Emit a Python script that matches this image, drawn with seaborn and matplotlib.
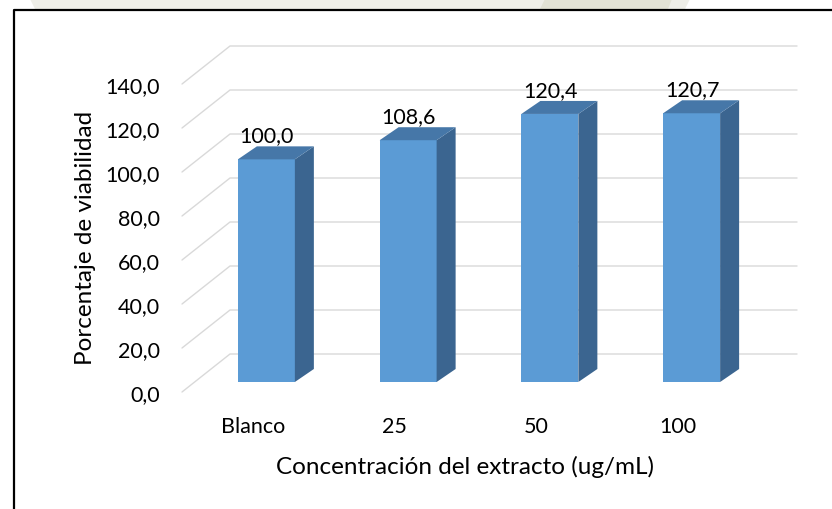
import matplotlib
matplotlib.use("Agg")
import matplotlib.pyplot as plt
from matplotlib.patches import Polygon
from matplotlib.lines import Line2D
from matplotlib.transforms import Affine2D, IdentityTransform
import seaborn as sns
import pandas as pd

# Datos
categorias = ["Blanco", "25", "50", "100"]
viabilidad = [100.0, 108.6, 120.4, 120.7]
ticks_y = [0, 20, 40, 60, 80, 100, 120, 140]
titulo_x = "Concentración del extracto (ug/mL)"
titulo_y = "Porcentaje de viabilidad"

df = pd.DataFrame({"concentracion": categorias, "viabilidad": viabilidad})

W, H, DPI = 832, 510, 100
sns.set_theme(style="white")
plt.rcParams["font.family"] = ["Lato", "DejaVu Sans"]

fig = plt.figure(figsize=(W / DPI, H / DPI), dpi=DPI)
fig.patch.set_facecolor("white")

# front plane of the 3D box, in pixels from the top-left corner
left_px, right_px = 182, 749
base_px, top_px = 393, 85
ax = fig.add_axes([left_px / W, (H - base_px) / H,
                   (right_px - left_px) / W, (base_px - top_px) / H])
ax.set_facecolor("none")

frente = "#5B9BD5"
lado = "#3B6590"
tapa = "#4677A8"
rejilla = "#D9D9D9"
fs = 15.5
fs_titulo = 17.5
ident = IdentityTransform()

sns.barplot(data=df, x="concentracion", y="viabilidad", color=frente,
            width=0.402, saturation=1, ax=ax, zorder=3)
ax.set_xlim(-0.5, 3.5)
ax.set_ylim(0, 140)
for s in ax.spines.values():
    s.set_visible(False)
ax.set_yticks(ticks_y)
ax.set_yticklabels([f"{v:.1f}".replace(".", ",") for v in ticks_y])
ax.tick_params(axis="both", length=0, labelsize=fs, colors="black")
ax.tick_params(axis="y", pad=16)
ax.tick_params(axis="x", pad=17)
ax.grid(False)

# axis titles centred at fixed pixel positions
ax.set_xlabel(titulo_x, fontsize=fs_titulo, color="black", va="center")
ax.set_ylabel(titulo_y, fontsize=fs_titulo, color="black", va="center")
ax.xaxis.set_label_coords(465, H - 467, transform=ident)
ax.yaxis.set_label_coords(85, H - 238, transform=ident)

# oblique offsets (pixels, y up) for the bar plane and the back wall
bar_dx, bar_dy = 13.5, 10
depth_dx, depth_dy = 19, 13
wall_dx, wall_dy = 48, 38
wall_right = 797

td = ax.transData
base_disp = H - base_px

# perspective gridlines: diagonal on the side wall plus line along the back wall
for v in ticks_y:
    _, yv = td.transform((0, v))
    xf = td.transform((-0.5, 0))[0]
    ax.add_line(Line2D([xf, xf + wall_dx, wall_right],
                       [yv, yv + wall_dy, yv + wall_dy],
                       color=rejilla, lw=1.0, transform=ident,
                       clip_on=False, zorder=1))

bar_tr = (Affine2D().translate(0, -base_disp).scale(1, 1.012)
          .translate(bar_dx, base_disp + bar_dy))
for p in list(ax.patches):
    p.set_transform(td + bar_tr)
    p.set_edgecolor("none")
    p.set_clip_on(False)
    x0, y0 = p.get_x(), p.get_y()
    x1, y1 = x0 + p.get_width(), y0 + p.get_height()
    (xl, yb), (xr, yt) = (td + bar_tr).transform([(x0, y0), (x1, y1)])
    side = Polygon([(xr, yb), (xr + depth_dx, yb + depth_dy),
                    (xr + depth_dx, yt + depth_dy), (xr, yt)],
                   closed=True, facecolor=lado, edgecolor="none",
                   transform=ident, clip_on=False, zorder=3)
    top = Polygon([(xl, yt), (xr, yt), (xr + depth_dx, yt + depth_dy),
                   (xl + depth_dx, yt + depth_dy)],
                  closed=True, facecolor=tapa, edgecolor="none",
                  transform=ident, clip_on=False, zorder=3)
    ax.add_patch(side)
    ax.add_patch(top)

# value labels above each bar
for i, v in enumerate(viabilidad):
    xd, yd = td.transform((i, v))
    ax.text(xd + 14, yd + 37, f"{v:.1f}".replace(".", ","),
            transform=ident, ha="center", va="center",
            fontsize=fs, color="black", zorder=5, clip_on=False)

# faint band at the top edge
fig.add_artist(Polygon([(30, H), (690, H), (685, H - 10), (35, H - 10)],
                       closed=True, facecolor="#EEEEE8", edgecolor="none",
                       transform=ident, zorder=0))
fig.add_artist(Polygon([(545, H), (672, H), (668, H - 10), (540, H - 10)],
                       closed=True, facecolor="#E2E2D5", edgecolor="none",
                       transform=ident, zorder=0))

# chart frame (left and top edges)
fig.add_artist(Line2D([13.5, 13.5, W], [0, H - 10.5, H - 10.5], color="black",
                      lw=1.6, transform=ident, zorder=6))

fig.savefig("out.png", dpi=DPI, facecolor="white")
